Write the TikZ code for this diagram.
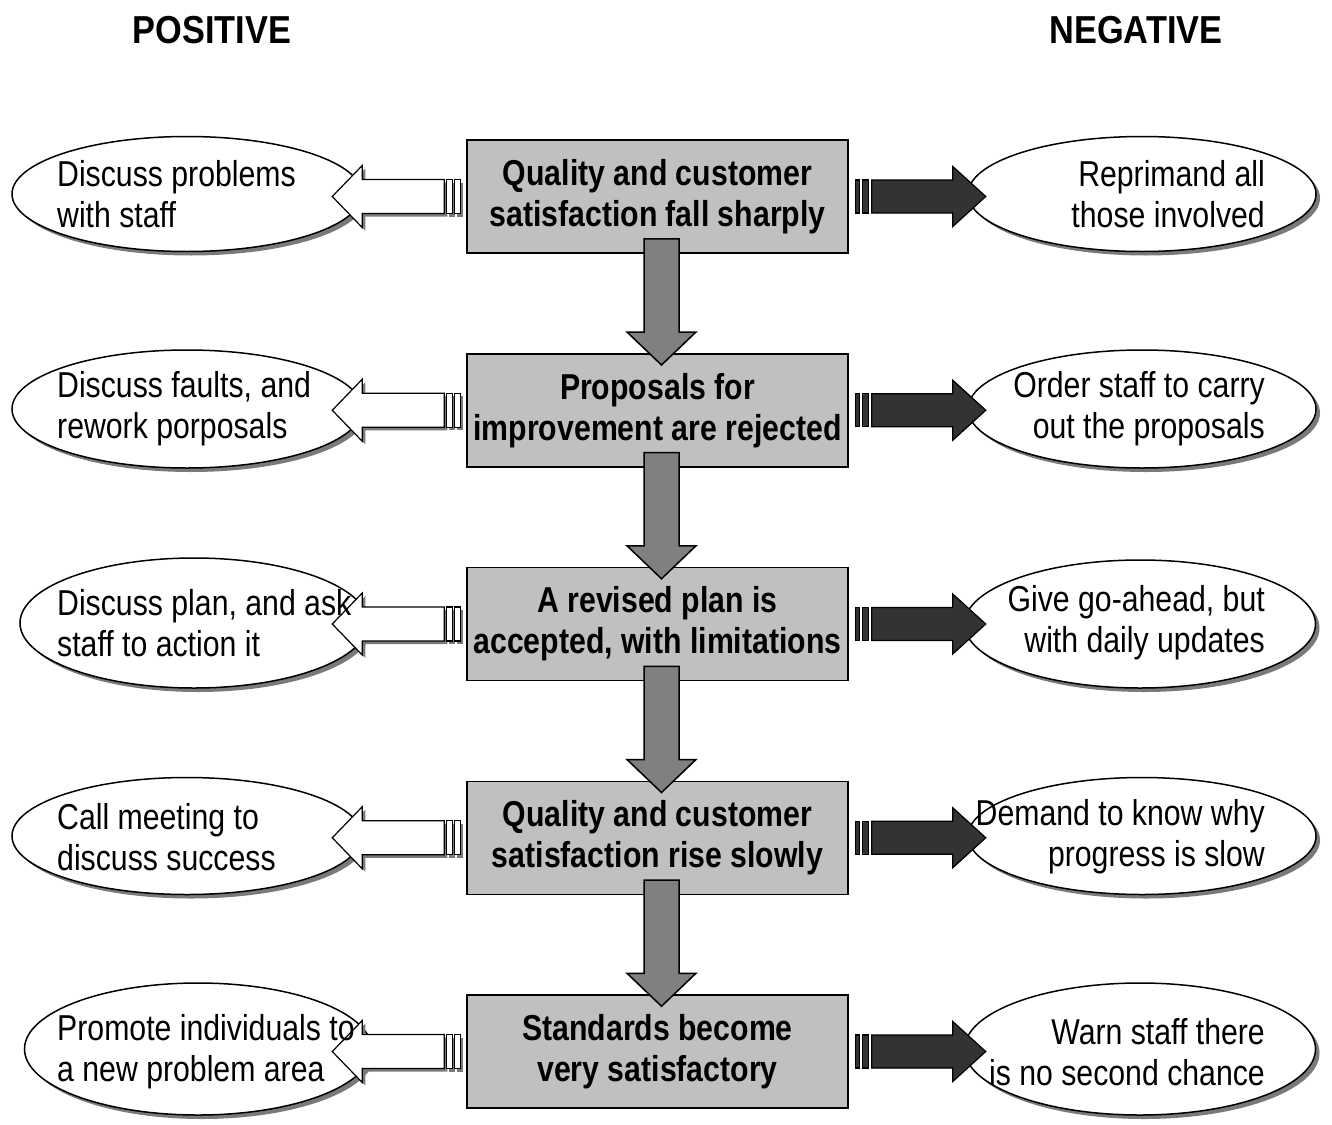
\documentclass[tikz,border=0pt]{standalone}
\usepackage{fontspec}
\setmainfont{Liberation Sans}
\newfontfamily\narrowfont[FakeStretch=0.84]{Liberation Sans}
\newfontfamily\headfont[FakeStretch=0.88]{Liberation Sans}
\usetikzlibrary{shapes.geometric,shadows,calc}
\definecolor{boxgray}{HTML}{C0C0C0}
\definecolor{arrgray}{HTML}{808080}
\definecolor{darkfill}{HTML}{333333}
\definecolor{shadowgray}{HTML}{7A7A7A}
\tikzset{
 box/.style={draw, line width=1.5pt, fill=boxgray, minimum width=381pt, minimum height=113pt, inner sep=0pt, align=center, font=\narrowfont\fontsize{36}{41}\selectfont\bfseries},
 oval/.style={ellipse, draw, line width=1.5pt, fill=white, inner sep=0pt, drop shadow={shadow xshift=4pt, shadow yshift=-4pt, fill=shadowgray, opacity=1}},
 ltext/.style={anchor=west, align=left, inner sep=0pt, font=\narrowfont\fontsize{36}{41}\selectfont},
 rtext/.style={anchor=east, align=right, inner sep=0pt, font=\narrowfont\fontsize{36}{41}\selectfont},
 headline/.style={font=\headfont\fontsize{39}{44}\selectfont\bfseries},
 downarr/.style={draw, line width=1.5pt, fill=arrgray, line join=miter},
 whitearr/.style={draw, line width=1.2pt, fill=white},
 arrshadow/.style={fill=shadowgray},
 blackarr/.style={draw, line width=1.2pt, fill=darkfill},
}
\newcommand\whiteL[1]{%
 \begin{scope}[shift={(#1.west)}]
  \fill[arrshadow] (-19,-14) -- (-101,-14) -- (-101,-28) -- (-131,3) -- (-101,34) -- (-101,20) -- (-19,20) -- cycle;
  \fill[arrshadow] (-17,-14) rectangle (-11,20);
  \fill[arrshadow] (-9,-14) rectangle (-3,20);
  \draw[whitearr] (-22,-17) -- (-104,-17) -- (-104,-31) -- (-134,0) -- (-104,31) -- (-104,17) -- (-22,17) -- cycle;
  \draw[whitearr] (-20,-17) rectangle (-14,17);
  \draw[whitearr] (-12,-17) rectangle (-6,17);
 \end{scope}}
\newcommand\darkR[1]{%
 \begin{scope}[shift={(#1.east)}]
  \draw[blackarr] (23,-16.5) -- (104,-16.5) -- (104,-30) -- (137,0) -- (104,30) -- (104,16.5) -- (23,16.5) -- cycle;
  \draw[blackarr] (7,-16.5) rectangle (11,16.5);
  \draw[blackarr] (14,-16.5) rectangle (20,16.5);
 \end{scope}}
\newcommand\downA[2]{%
 \draw[downarr] ($(#1.south)+(-13.5,-15)$) -- ($(#1.south)+(21.5,-15)$) -- ($(#2.north)+(21.5,-21)$) -- ($(#2.north)+(38.5,-21)$) -- ($(#2.north)+(4,12)$) -- ($(#2.north)+(-30.5,-21)$) -- ($(#2.north)+(-13.5,-21)$) -- cycle;}
\begin{document}
\begin{tikzpicture}[x=1pt,y=-1pt]
\useasboundingbox[fill=white] (0,0) rectangle (1332,1124);
% headers
\node[headline] (pos) at (212,30) {POSITIVE};
\node[headline] (neg) at (1136,30) {NEGATIVE};
% boxes
\node[box] (b1) at (657.5,196.5) {Quality and customer\\satisfaction fall sharply};
\node[box] (b2) at (657.5,410.25) {Proposals for\\improvement are rejected};
\node[box] (b3) at (657.5,624) {A revised plan is\\accepted, with limitations};
\node[box] (b4) at (657.5,837.75) {Quality and customer\\satisfaction rise slowly};
\node[box] (b5) at (657.5,1051.5) {Standards become\\very satisfactory};
% down arrows
\downA{b1}{b2}
\downA{b2}{b3}
\downA{b3}{b4}
\downA{b4}{b5}
% ellipses
\node[oval, minimum width=350pt, minimum height=115pt] (l1) at (187,194) {};
\node[oval, minimum width=350pt, minimum height=118pt] (l2) at (187,409) {};
\node[oval, minimum width=348pt, minimum height=130pt] (l3) at (194,623) {};
\node[oval, minimum width=350pt, minimum height=117pt] (l4) at (187,836) {};
\node[oval, minimum width=347pt, minimum height=132pt] (l5) at (198,1049) {};
\node[oval, minimum width=348pt, minimum height=115pt] (r1) at (1142,194) {};
\node[oval, minimum width=348pt, minimum height=118pt] (r2) at (1142,409) {};
\node[oval, minimum width=351pt, minimum height=128pt] (r3) at (1140,624) {};
\node[oval, minimum width=348pt, minimum height=117pt] (r4) at (1142,836) {};
\node[oval, minimum width=351pt, minimum height=132pt] (r5) at (1140,1049) {};
% side arrows
\whiteL{b1}\whiteL{b2}\whiteL{b3}\whiteL{b4}\whiteL{b5}
\darkR{b1}\darkR{b2}\darkR{b3}\darkR{b4}\darkR{b5}
% ellipse texts
\node[ltext] (tl1) at (57,194.5) {Discuss problems\\with staff};
\node[ltext] (tl2) at (57,408.5) {Discuss faults, and\\rework porposals};
\node[ltext] (tl3) at (57,623) {Discuss plan, and ask\\staff to action it};
\node[ltext] (tl4) at (57,837) {Call meeting to\\discuss success};
\node[ltext] (tl5) at (57,1052) {Promote individuals to\\a new problem area};
\node[rtext] (tr1) at (1265,194.5) {Reprimand all\\those involved};
\node[rtext] (tr2) at (1265,408.5) {Order staff to carry\\out the proposals};
\node[rtext] (tr3) at (1265,623) {Give go-ahead, but\\with daily updates};
\node[rtext] (tr4) at (1265,837) {Demand to know why\\progress is slow};
\node[rtext] (tr5) at (1265,1052) {Warn staff there\\is no second chance};
\end{tikzpicture}
\end{document}
